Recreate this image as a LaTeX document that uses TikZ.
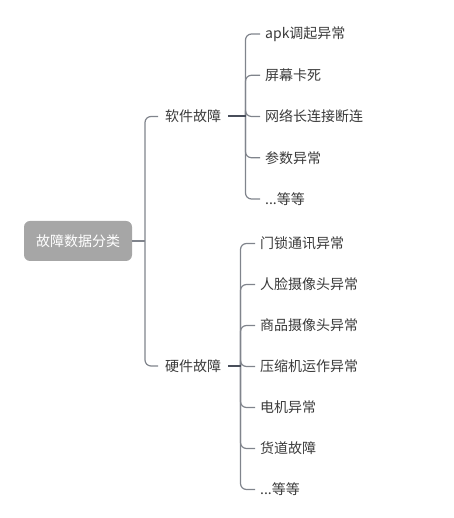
\documentclass[tikz,border=0pt]{standalone}
\usepackage{fontspec}
\setmainfont{Noto Sans CJK SC}
\usetikzlibrary{positioning}
\definecolor{rootcolor}{RGB}{166,166,166}
\definecolor{labelcolor}{RGB}{58,58,58}
\definecolor{trunkcolor}{RGB}{128,132,140}
\definecolor{stubcolor}{RGB}{72,78,90}

\begin{document}
\begin{tikzpicture}[
    x=1pt, y=1pt,
    rootbox/.style={rectangle, rounded corners=6pt, fill=rootcolor, text=white, minimum width=108pt, minimum height=40pt, font=\fontsize{14}{16}\selectfont},
    branch/.style={rectangle, inner xsep=7pt, inner ysep=2pt, text=labelcolor, font=\fontsize{14}{16}\selectfont},
    leaf/.style={rectangle, inner xsep=5pt, inner ysep=2pt, text=labelcolor, font=\fontsize{14}{16}\selectfont},
    trunk/.style={draw=trunkcolor, line width=1.2pt, rounded corners=6pt},
    stub/.style={draw=stubcolor, line width=2pt}
]
\useasboundingbox (0,0) rectangle (453,518);

% Root
\node[rootbox] (root) at (78,277) {故障数据分类};

% Branches
\node[branch, anchor=west] (soft) at (158,401.5) {软件故障};
\node[branch, anchor=west] (hard) at (158,152) {硬件故障};

% Junctions
\coordinate (jr) at (145,277);
\coordinate (js) at (245.5,401.5);
\coordinate (jh) at (240.5,152);

% Software faults
\node[leaf, anchor=west] (s1) at (260,484) {apk调起异常};
\node[leaf, below=41.25pt of s1.west, anchor=west] (s2) {屏幕卡死};
\node[leaf, below=41.25pt of s2.west, anchor=west] (s3) {网络长连接断连};
\node[leaf, below=41.25pt of s3.west, anchor=west] (s4) {参数异常};
\node[leaf, below=41.25pt of s4.west, anchor=west] (s5) {...等等};

% Hardware faults
\node[leaf, anchor=west] (h1) at (255,274.5) {门锁通讯异常};
\node[leaf, below=41pt of h1.west, anchor=west] (h2) {人脸摄像头异常};
\node[leaf, below=41pt of h2.west, anchor=west] (h3) {商品摄像头异常};
\node[leaf, below=41pt of h3.west, anchor=west] (h4) {压缩机运作异常};
\node[leaf, below=41pt of h4.west, anchor=west] (h5) {电机异常};
\node[leaf, below=41pt of h5.west, anchor=west] (h6) {货道故障};
\node[leaf, below=41pt of h6.west, anchor=west] (h7) {...等等};

% Connectors
\draw[trunk] (soft.west) -| (jr) |- (hard.west);
\draw[trunk, line width=1.5pt] (root.east) -- (jr);

\draw[trunk] (s1.west) -| (js) |- (s5.west);
\draw[trunk] (js) |- (s2.west);
\draw[trunk] (js) |- (s3.west);
\draw[trunk] (js) |- (s4.west);
\draw[stub] (soft.east) -- (js);

\draw[trunk] (h1.west) -| (jh) |- (h7.west);
\draw[trunk] (jh) |- (h2.west);
\draw[trunk] (jh) |- (h3.west);
\draw[trunk] (jh) |- (h4.west);
\draw[trunk] (jh) |- (h5.west);
\draw[trunk] (jh) |- (h6.west);
\draw[stub] (hard.east) -- (jh);

\end{tikzpicture}
\end{document}
